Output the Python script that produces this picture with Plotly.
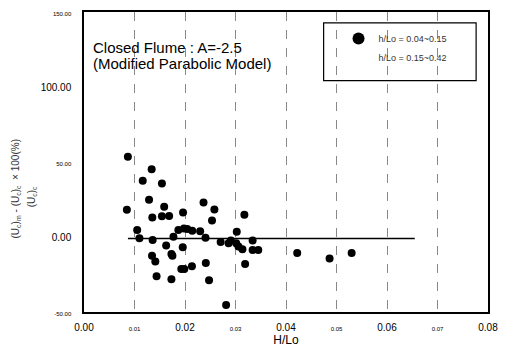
import plotly.graph_objects as go

# ---- data ----
hlo = [0.00869, 0.00849, 0.0134, 0.01163, 0.01543, 0.01288, 0.01588, 0.01353, 0.01543, 0.01686,
       0.01961, 0.02367, 0.02582, 0.02535, 0.03176, 0.01053, 0.01098, 0.01359, 0.01771, 0.01869,
       0.0198, 0.02045, 0.02143, 0.023, 0.02406, 0.02706, 0.02863, 0.03025, 0.02908, 0.03014,
       0.03059, 0.03137, 0.03339, 0.03339, 0.03451, 0.0319, 0.01347, 0.01412, 0.01627, 0.01731,
       0.01751, 0.01955, 0.01927, 0.01986, 0.02137, 0.02412, 0.01437, 0.01731, 0.02476, 0.02814,
       0.04222, 0.04863, 0.053]
err = [53.5, 18.2, 45.2, 37.5, 35.7, 24.8, 20.2, 13.0, 13.8, 14.0,
       16.3, 23.0, 18.4, 11.0, 14.9, 4.6, -0.9, -2.0, 0.2, 4.6,
       5.7, 5.3, 4.1, 3.8, -0.5, -3.3, -4.1, 3.5, -2.4, -4.1,
       -6.4, -8.1, -2.4, -8.6, -8.6, -18.0, -12.5, -16.3, -5.7, -11.4,
       -12.5, -6.8, -21.3, -21.3, -19.5, -17.3, -26.1, -28.1, -28.8, -45.4,
       -10.7, -14.3, -10.7]
mean_x = [0.0087, 0.0655]
mean_y = [-1.0, -1.0]

x_ticks = [0.0, 0.01, 0.02, 0.03, 0.04, 0.05, 0.06, 0.07, 0.08]
x_major = [True, False, True, False, True, False, True, False, True]
y_ticks = [-50, 0, 50, 100, 150]
y_major = [False, True, False, True, False]

legend_names = ["h/Lo = 0.04~0.15", "h/Lo = 0.15~0.42"]


def lab(v, major, fmt):
    s = fmt.format(v)
    return s if major else "<span style='font-size:6px'>" + s + "</span>"


fig = go.Figure()
fig.add_trace(go.Scatter(x=hlo, y=err, mode="markers", name=legend_names[0],
                         marker=dict(color="black", size=8)))
fig.add_trace(go.Scatter(x=[None], y=[None], mode="markers", name=legend_names[1],
                         marker=dict(color="white", size=8)))
fig.add_trace(go.Scatter(x=mean_x, y=mean_y, mode="lines", showlegend=False,
                         line=dict(color="black", width=1.5)))

fig.update_layout(
    width=508, height=354,
    margin=dict(l=84, r=16, t=10, b=42),
    paper_bgcolor="white", plot_bgcolor="white",
    font=dict(family="Arial, Liberation Sans, sans-serif", color="black"),
    showlegend=True,
    legend=dict(x=0.63, y=0.96, xanchor="left", yanchor="top",
                bgcolor="rgba(0,0,0,0)", borderwidth=0,
                font=dict(size=9, color="#333"), itemsizing="constant",
                tracegroupgap=2),
    xaxis=dict(range=[0, 0.08], tickvals=x_ticks,
               ticktext=[lab(v, m, "{:.2f}") for v, m in zip(x_ticks, x_major)],
               tickfont=dict(size=10), ticks="", ticklabelstandoff=5,
               showline=True, linecolor="black",
               linewidth=1.5, mirror=True, showgrid=True, gridcolor="#888",
               griddash="dash", gridwidth=1, zeroline=False,
               title=dict(text="H/Lo", font=dict(size=12), standoff=0)),
    yaxis=dict(range=[-50, 150], tickvals=y_ticks,
               ticktext=[lab(v, m, "{:.2f}") for v, m in zip(y_ticks, y_major)],
               tickfont=dict(size=10), ticks="", ticklabelstandoff=9,
               showline=True, linecolor="black",
               linewidth=1.5, mirror=True, showgrid=False, zeroline=False),
    shapes=[dict(type="rect", xref="paper", yref="paper",
                 x0=(326 - 84) / 408, x1=(480 - 84) / 408,
                 y0=(312 - 79) / 302, y1=(312 - 21) / 302,
                 line=dict(color="black", width=1.2), fillcolor="rgba(0,0,0,0)")],
    annotations=[
        dict(xref="paper", yref="paper", x=(91 - 84) / 408, y=(312 - 46) / 302,
             xanchor="left", yanchor="middle", showarrow=False,
             text="Closed Flume : A=-2.5", font=dict(size=15)),
        dict(xref="paper", yref="paper", x=(91 - 84) / 408, y=(312 - 62) / 302,
             xanchor="left", yanchor="middle", showarrow=False,
             text="(Modified Parabolic Model)", font=dict(size=15)),
        dict(xref="paper", yref="paper", x=(15 - 84) / 408, y=(312 - 188) / 302,
             xanchor="center", yanchor="middle", showarrow=False, textangle=-90,
             text="(U<sub>c</sub>)<sub>m</sub> - (U<sub>c</sub>)<sub>c</sub>  × 100(%)",
             font=dict(size=10, color="#333")),
        dict(xref="paper", yref="paper", x=(31 - 84) / 408, y=(312 - 196) / 302,
             xanchor="center", yanchor="middle", showarrow=False, textangle=-90,
             text="(U<sub>c</sub>)<sub>c</sub>",
             font=dict(size=10, color="#333")),
    ],
)

fig.write_html("out.html")
